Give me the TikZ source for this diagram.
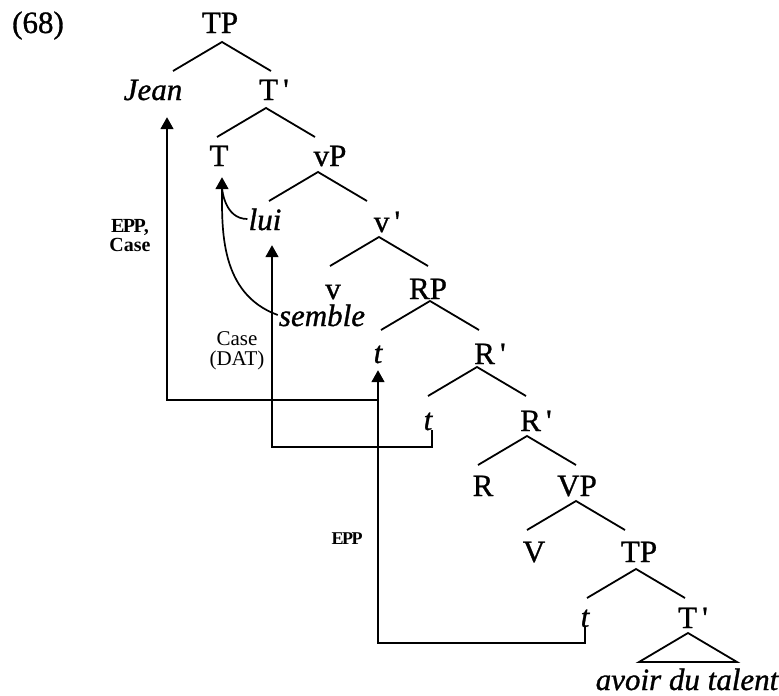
\documentclass[tikz,border=0pt]{standalone}
\usepackage{fontspec}
\setmainfont{Liberation Serif}
\newfontfamily\scanfont{Liberation Serif}[FakeBold=1]
\usepackage{tikz}
\usetikzlibrary{arrows.meta}

% inverted V below a category node: apex shifted by (#2,#3) from its base
\newcommand{\fork}[3]{\draw[branch] ([shift={(#2,#3)}]#1.base) ++(-49,29) -- ++(49,-29) -- ++(49,29);}

\begin{document}
\begin{tikzpicture}[
    x=1pt, y=-1pt,
    cat/.style={anchor=base, inner xsep=1pt, inner ysep=0pt, text height=22pt, text depth=0pt, font=\scanfont\fontsize{31}{36}\selectfont},
    word/.style={cat, font=\scanfont\fontsize{31}{36}\selectfont\itshape},
    branch/.style={line width=1.8pt},
    mv/.style={line width=1.7pt, -{Triangle[length=12pt, width=13pt]}},
    note/.style={align=center, font=\fontsize{20}{19}\selectfont\bfseries}
]
    \useasboundingbox (0,0) rectangle (779,696);

    \node[cat] (ex) at (38,33) {(68)};
    \node[cat] (TPa) at (220,33) {TP};
    \node[word] (Jean) at (153,100) {Jean};
    \node[cat] (Tba) at (274,100) {T\,\textquotesingle};
    \node[cat] (T) at (219,166) {T};
    \node[cat] (vP) at (330,166) {vP};
    \node[word] (lui) at (265,230) {lui};
    \node[cat] (vb) at (387,232) {v\,\textquotesingle};
    \node[cat] (v) at (333,299) {v};
    \node[cat] (RP) at (428,299) {RP};
    \node[word] (semble) at (322,326) {semble};
    \node[word] (ta) at (378,363) {t};
    \node[cat] (Rba) at (490,364) {R\,\textquotesingle};
    \node[word] (tb) at (428,430) {t};
    \node[cat] (Rbb) at (536,431) {R\,\textquotesingle};
    \node[cat] (R) at (483,496) {R};
    \node[cat] (VP) at (577,496) {VP};
    \node[cat] (V) at (534,562) {V};
    \node[cat] (TPb) at (639,562) {TP};
    \node[word] (tc) at (585,627) {t};
    \node[cat] (Tbb) at (693,628) {T\,\textquotesingle};
    \node[word] (talent) at (687,690) {avoir du talent};

    \node[note] (eppcase) at (130,236) {E\kern-1.5pt P\kern-1.5pt P,\\Case};
    \node[align=center, font=\fontsize{21}{19.5}\selectfont] (dat) at (237,351) {Case\\(DAT)};
    \node[note, font=\fontsize{18}{20}\selectfont\bfseries] (epp) at (347,539) {E\kern-1.5pt P\kern-1.5pt P};

    \fork{TPa}{2}{9}
    \fork{Tba}{-8}{8}
    \fork{vP}{-12}{6}
    \fork{vb}{-8}{5}
    \fork{RP}{2}{2}
    \fork{Rba}{-13}{3}
    \fork{Rbb}{-9}{5}
    \fork{VP}{-1}{5}
    \fork{TPb}{-3}{7}
    \draw[branch] ([shift={(-5,5)}]Tbb.base) -- ++(-49,29) -- ++(98,0) -- cycle;

    % movement
    \draw[mv, shorten >=7pt] (tc.south) -- ++(0,16) -| (ta.south);
    \draw[mv, shorten >=17pt] (ta.south |- 0,400) -| ([xshift=14pt]Jean.south);
    \draw[mv, shorten >=15pt] ([xshift=4pt]tb.south) -- ++(0,17) -| ([xshift=7pt]lui.south);
    \draw[mv, shorten >=11pt] (semble.west) to[out=160, in=-90] ([xshift=3pt]T.south);
    \draw[line width=1.7pt, shorten >=21pt] (lui.west) to[out=180, in=-90] ([xshift=3pt]T.south);
\end{tikzpicture}
\end{document}
